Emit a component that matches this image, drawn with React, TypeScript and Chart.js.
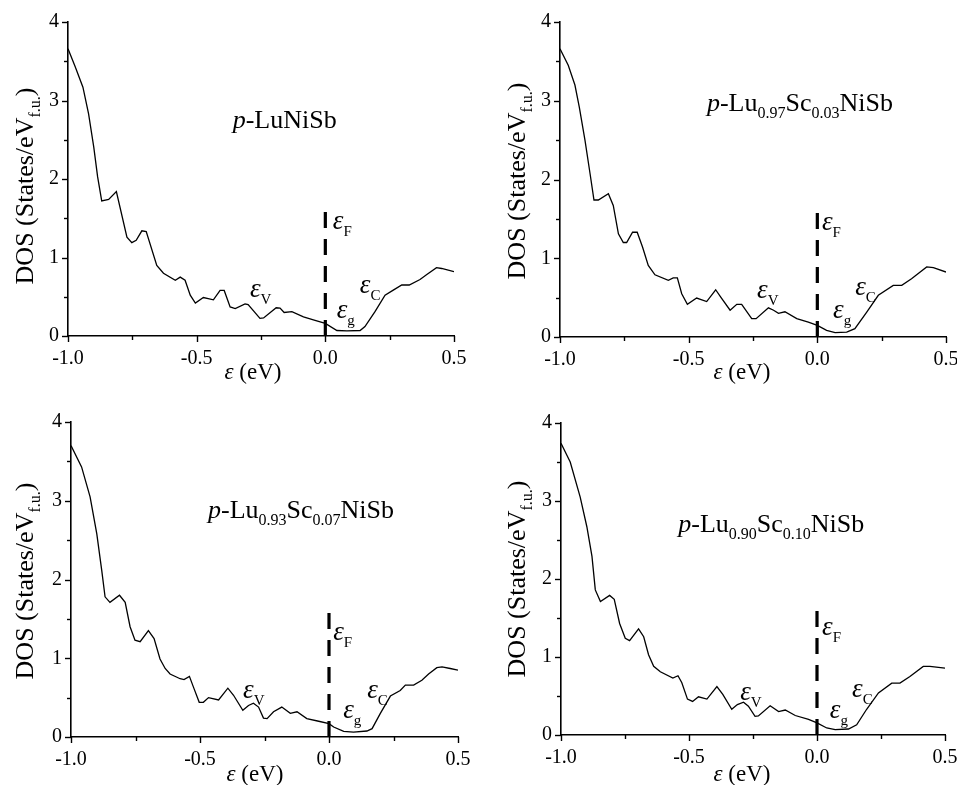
import React, { useEffect, useRef } from "react";
import { Chart, registerables } from "chart.js";

Chart.register(...registerables);

const SERIF = '"Liberation Serif", "Times New Roman", Times, serif';

// ---------------- data ----------------
const energyLuNiSb = [-1.0, -0.972, -0.942, -0.92, -0.9, -0.885, -0.869, -0.842, -0.812, -0.771, -0.752, -0.735, -0.713, -0.696, -0.655, -0.629, -0.583, -0.564, -0.545, -0.525, -0.505, -0.474, -0.455, -0.435, -0.409, -0.393, -0.37, -0.35, -0.312, -0.3, -0.254, -0.24, -0.191, -0.176, -0.16, -0.13, -0.085, -0.04, 0.0, 0.045, 0.084, 0.135, 0.154, 0.193, 0.232, 0.264, 0.297, 0.326, 0.368, 0.393, 0.432, 0.452, 0.5];
const dosLuNiSb = [3.66, 3.43, 3.17, 2.83, 2.41, 2.03, 1.72, 1.74, 1.84, 1.26, 1.19, 1.22, 1.34, 1.33, 0.9, 0.8, 0.71, 0.75, 0.71, 0.52, 0.42, 0.49, 0.475, 0.46, 0.58, 0.58, 0.37, 0.35, 0.41, 0.4, 0.225, 0.23, 0.36, 0.355, 0.3, 0.31, 0.245, 0.2, 0.16, 0.07, 0.065, 0.07, 0.12, 0.31, 0.52, 0.585, 0.65, 0.65, 0.72, 0.78, 0.87, 0.86, 0.82];

const energySc003 = [-1.0, -0.968, -0.942, -0.925, -0.903, -0.883, -0.868, -0.851, -0.812, -0.793, -0.773, -0.754, -0.741, -0.718, -0.7, -0.679, -0.657, -0.631, -0.579, -0.56, -0.544, -0.527, -0.505, -0.469, -0.43, -0.395, -0.376, -0.339, -0.313, -0.294, -0.255, -0.238, -0.19, -0.17, -0.151, -0.126, -0.08, -0.035, 0.0, 0.036, 0.069, 0.114, 0.146, 0.192, 0.237, 0.295, 0.328, 0.366, 0.425, 0.451, 0.5];
const dosSc003 = [3.66, 3.45, 3.2, 2.92, 2.5, 2.07, 1.74, 1.74, 1.82, 1.67, 1.31, 1.2, 1.2, 1.33, 1.33, 1.14, 0.91, 0.79, 0.72, 0.75, 0.75, 0.55, 0.415, 0.495, 0.45, 0.6, 0.51, 0.34, 0.415, 0.415, 0.233, 0.233, 0.37, 0.34, 0.3, 0.32, 0.233, 0.19, 0.148, 0.085, 0.055, 0.063, 0.106, 0.317, 0.53, 0.656, 0.656, 0.74, 0.89, 0.88, 0.825];

const energySc007 = [-1.0, -0.959, -0.926, -0.9, -0.881, -0.868, -0.849, -0.812, -0.79, -0.771, -0.752, -0.732, -0.7, -0.678, -0.655, -0.635, -0.616, -0.577, -0.562, -0.541, -0.525, -0.503, -0.487, -0.467, -0.428, -0.392, -0.37, -0.334, -0.312, -0.293, -0.273, -0.254, -0.24, -0.215, -0.183, -0.15, -0.124, -0.086, -0.04, 0.0, 0.018, 0.057, 0.095, 0.147, 0.167, 0.199, 0.238, 0.276, 0.296, 0.328, 0.36, 0.386, 0.418, 0.438, 0.47, 0.5];
const dosSc007 = [3.7, 3.43, 3.05, 2.58, 2.12, 1.78, 1.71, 1.8, 1.71, 1.4, 1.23, 1.21, 1.35, 1.25, 0.99, 0.87, 0.8, 0.74, 0.73, 0.77, 0.63, 0.44, 0.44, 0.5, 0.47, 0.62, 0.53, 0.34, 0.4, 0.43, 0.38, 0.24, 0.233, 0.32, 0.38, 0.3, 0.32, 0.233, 0.2, 0.17, 0.127, 0.072, 0.063, 0.076, 0.106, 0.3, 0.52, 0.59, 0.66, 0.66, 0.72, 0.8, 0.88, 0.89, 0.87, 0.85];

const energySc010 = [-1.0, -0.964, -0.925, -0.899, -0.879, -0.866, -0.846, -0.81, -0.792, -0.771, -0.749, -0.732, -0.697, -0.677, -0.658, -0.638, -0.612, -0.563, -0.543, -0.528, -0.506, -0.486, -0.463, -0.43, -0.391, -0.368, -0.333, -0.311, -0.287, -0.268, -0.242, -0.229, -0.183, -0.15, -0.124, -0.085, -0.033, 0.0, 0.038, 0.071, 0.123, 0.155, 0.194, 0.24, 0.292, 0.324, 0.363, 0.415, 0.441, 0.5];
const dosSc010 = [3.74, 3.5, 3.05, 2.67, 2.29, 1.86, 1.71, 1.79, 1.74, 1.43, 1.24, 1.21, 1.36, 1.26, 1.03, 0.88, 0.81, 0.73, 0.76, 0.67, 0.46, 0.43, 0.49, 0.46, 0.62, 0.52, 0.33, 0.39, 0.42, 0.37, 0.24, 0.245, 0.375, 0.3, 0.32, 0.25, 0.2, 0.155, 0.09, 0.068, 0.077, 0.13, 0.33, 0.54, 0.665, 0.665, 0.75, 0.88, 0.88, 0.857];

const fermiEnergy = [0, 0];
const fermiMarker = [0, 1.62];

const xMajorTicks = [-1.0, -0.5, 0.0, 0.5];
const xMinorTicks = [-0.75, -0.25, 0.25];
const yMajorTicks = [0, 1, 2, 3, 4];
const yMinorTicks = [0.5, 1.5, 2.5, 3.5];

type Seg = { t: string; s?: "i" | "sub" };

const titleLuNiSb: Seg[] = [{ t: "p", s: "i" }, { t: "-LuNiSb" }];
const titleSc003: Seg[] = [{ t: "p", s: "i" }, { t: "-Lu" }, { t: "0.97", s: "sub" }, { t: "Sc" }, { t: "0.03", s: "sub" }, { t: "NiSb" }];
const titleSc007: Seg[] = [{ t: "p", s: "i" }, { t: "-Lu" }, { t: "0.93", s: "sub" }, { t: "Sc" }, { t: "0.07", s: "sub" }, { t: "NiSb" }];
const titleSc010: Seg[] = [{ t: "p", s: "i" }, { t: "-Lu" }, { t: "0.90", s: "sub" }, { t: "Sc" }, { t: "0.10", s: "sub" }, { t: "NiSb" }];

const yTitle: Seg[] = [{ t: "DOS (States/eV" }, { t: "f.u.", s: "sub" }, { t: ")" }];
const xTitle: Seg[] = [{ t: "ε", s: "i" }, { t: " (eV)" }];
const levelNames = ["F", "V", "g", "C"];

// ---------------- layout ----------------
const W = 478;
const H = 392;

type Spec = {
  left: number; top: number;
  areaLeft: number; areaRight: number; areaTop: number; areaBottom: number;
  energy: number[]; dos: number[]; title: Seg[];
  titlePos: [number, number];
  levels: [number, number][];
  yTitleX: number; yTitleY: number;
  xTitleX: number; xTitleY: number;
};

const panels: Spec[] = [
  {
    left: 0, top: 0, areaLeft: 68, areaRight: 454, areaTop: 22, areaBottom: 336,
    energy: energyLuNiSb, dos: dosLuNiSb, title: titleLuNiSb, titlePos: [-0.36, 2.65],
    levels: [[0.029, 1.36], [-0.293, 0.5], [0.044, 0.23], [0.134, 0.55]],
    yTitleX: 33, yTitleY: 186, xTitleX: 253, xTitleY: 379,
  },
  {
    left: 479, top: 0, areaLeft: 81, areaRight: 467, areaTop: 22, areaBottom: 337,
    energy: energySc003, dos: dosSc003, title: titleSc003, titlePos: [-0.429, 2.87],
    levels: [[0.018, 1.355], [-0.234, 0.5], [0.061, 0.24], [0.147, 0.53]],
    yTitleX: 46, yTitleY: 181, xTitleX: 263, xTitleY: 379,
  },
  {
    left: 0, top: 393, areaLeft: 71, areaRight: 458, areaTop: 29, areaBottom: 344,
    energy: energySc007, dos: dosSc007, title: titleSc007, titlePos: [-0.469, 2.78],
    levels: [[0.016, 1.23], [-0.333, 0.5], [0.055, 0.24], [0.148, 0.49]],
    yTitleX: 33, yTitleY: 188, xTitleX: 255, xTitleY: 388,
  },
  {
    left: 479, top: 393, areaLeft: 82, areaRight: 466, areaTop: 30, areaBottom: 342,
    energy: energySc010, dos: dosSc010, title: titleSc010, titlePos: [-0.542, 2.6],
    levels: [[0.02, 1.28], [-0.3, 0.45], [0.05, 0.22], [0.137, 0.49]],
    yTitleX: 46, yTitleY: 186, xTitleX: 263, xTitleY: 388,
  },
];

// ---------------- rich text ----------------
function fontFor(s: Seg["s"], size: number, subRatio: number) {
  if (s === "i") return `italic ${size}px ${SERIF}`;
  if (s === "sub") return `${Math.round(size * subRatio)}px ${SERIF}`;
  return `${size}px ${SERIF}`;
}
function richWidth(ctx: CanvasRenderingContext2D, segs: Seg[], size: number, subRatio = 0.62) {
  let w = 0;
  for (const g of segs) {
    ctx.font = fontFor(g.s, size, subRatio);
    w += ctx.measureText(g.t).width;
  }
  return w;
}
function drawRich(ctx: CanvasRenderingContext2D, segs: Seg[], x: number, y: number, size: number, subRatio = 0.62) {
  let cx = x;
  ctx.textAlign = "left";
  ctx.textBaseline = "alphabetic";
  for (const g of segs) {
    ctx.font = fontFor(g.s, size, subRatio);
    ctx.fillText(g.t, cx, y + (g.s === "sub" ? size * 0.26 : 0));
    cx += ctx.measureText(g.t).width;
  }
}

const decorPlugin = {
  id: "decor",
  afterDraw(chart: any, _args: any, opts: any) {
    const spec: Spec = opts.spec;
    const { ctx, chartArea } = chart;
    const xs = chart.scales.x;
    const ys = chart.scales.y;
    ctx.save();
    ctx.strokeStyle = "#000";
    ctx.fillStyle = "#000";
    ctx.lineWidth = 1.4;
    // tick marks (outside)
    const tickX = (v: number, len: number) => {
      const px = Math.round(xs.getPixelForValue(v)) + 0.5;
      ctx.beginPath();
      ctx.moveTo(px, chartArea.bottom);
      ctx.lineTo(px, chartArea.bottom + len);
      ctx.stroke();
    };
    const tickY = (v: number, len: number) => {
      const py = Math.round(ys.getPixelForValue(v)) + 0.5;
      ctx.beginPath();
      ctx.moveTo(chartArea.left, py);
      ctx.lineTo(chartArea.left - len, py);
      ctx.stroke();
    };
    xMajorTicks.forEach((v) => tickX(v, 6));
    xMinorTicks.forEach((v) => tickX(v, 4));
    yMajorTicks.forEach((v) => tickY(v, 6));
    yMinorTicks.forEach((v) => tickY(v, 4));

    // compound title
    drawRich(ctx, spec.title, xs.getPixelForValue(spec.titlePos[0]), ys.getPixelForValue(spec.titlePos[1]), 26);

    // energy level labels
    spec.levels.forEach(([ex, ey], i) => {
      drawRich(
        ctx,
        [{ t: "ε", s: "i" }, { t: levelNames[i], s: "sub" }],
        xs.getPixelForValue(ex),
        ys.getPixelForValue(ey),
        27,
        0.57
      );
    });

    // x axis title
    const xw = richWidth(ctx, xTitle, 23);
    drawRich(ctx, xTitle, spec.xTitleX - xw / 2, spec.xTitleY, 23);

    // y axis title (rotated)
    const yw = richWidth(ctx, yTitle, 26);
    ctx.translate(spec.yTitleX, spec.yTitleY);
    ctx.rotate(-Math.PI / 2);
    drawRich(ctx, yTitle, -yw / 2, 0, 26);
    ctx.restore();
  },
};

function Panel({ spec }: { spec: Spec }) {
  const ref = useRef<HTMLCanvasElement>(null);
  useEffect(() => {
    if (!ref.current) return;
    const curve = spec.energy.map((e, i) => ({ x: e, y: spec.dos[i] }));
    const fermi = fermiEnergy.map((e, i) => ({ x: e, y: fermiMarker[i] }));
    const chart = new Chart(ref.current, {
      type: "line",
      data: {
        datasets: [
          { data: curve, borderColor: "#000", borderWidth: 1.3, pointRadius: 0, tension: 0, fill: false },
          { data: fermi, borderColor: "#000", borderWidth: 3.2, borderDash: [16, 11], pointRadius: 0, fill: false },
        ],
      },
      options: {
        responsive: false,
        animation: false,
        devicePixelRatio: 1,
        layout: { padding: { left: 0, top: spec.areaTop, right: W - spec.areaRight, bottom: 0 } },
        plugins: {
          legend: { display: false },
          tooltip: { enabled: false },
          decor: { spec },
        } as any,
        scales: {
          x: {
            type: "linear",
            min: -1,
            max: 0.5,
            grid: { display: false, drawTicks: false },
            border: { display: true, color: "#000", width: 1.6 },
            ticks: {
              padding: 11,
              color: "#000",
              font: { family: SERIF, size: 20 },
              callback: (v: any) => Number(v).toFixed(1),
            },
            afterBuildTicks: (s: any) => {
              s.ticks = xMajorTicks.map((v) => ({ value: v }));
            },
            afterFit: (s: any) => {
              s.height = H - spec.areaBottom;
              s.paddingLeft = 0;
              s.paddingRight = 0;
            },
          },
          y: {
            type: "linear",
            min: 0,
            max: 4,
            grid: { display: false, drawTicks: false },
            border: { display: true, color: "#000", width: 1.6 },
            ticks: {
              padding: 9,
              color: "#000",
              font: { family: SERIF, size: 20 },
              callback: (v: any) => String(Number(v)),
            },
            afterBuildTicks: (s: any) => {
              s.ticks = yMajorTicks.map((v) => ({ value: v }));
            },
            afterFit: (s: any) => {
              s.width = spec.areaLeft;
              s.paddingTop = 0;
              s.paddingBottom = 0;
            },
          },
        },
      } as any,
      plugins: [decorPlugin as any],
    });
    return () => chart.destroy();
  }, [spec]);
  return (
    <div style={{ position: "absolute", left: spec.left, top: spec.top, width: W, height: H }}>
      <canvas ref={ref} width={W} height={H} style={{ display: "block", width: W, height: H }} />
    </div>
  );
}

export default function App() {
  return (
    <div style={{ position: "absolute", left: 0, top: 0, width: 957, height: 785, background: "#fff", overflow: "hidden" }}>
      {panels.map((p, i) => (
        <Panel key={i} spec={p} />
      ))}
    </div>
  );
}
